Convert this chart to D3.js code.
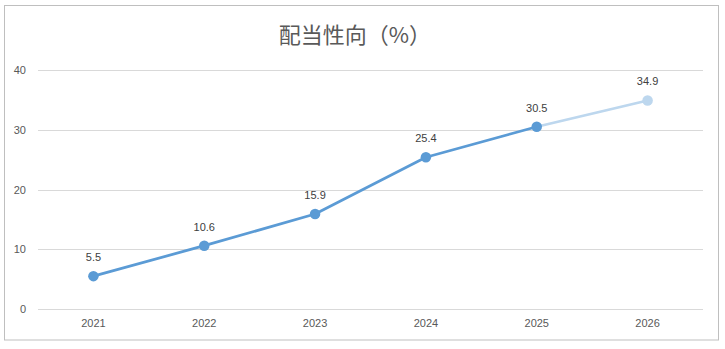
<!DOCTYPE html>
<html>
<head>
<meta charset="utf-8">
<script src="https://cdn.jsdelivr.net/npm/d3@7"></script>
<style>
  html, body { margin: 0; padding: 0; background: #fff; }
  svg { display: block; }
</style>
</head>
<body>
<svg id="chart" width="725" height="349"></svg>
<script>
// Payout ratio by fiscal year (last year is a forecast)
const years = ["2021", "2022", "2023", "2024", "2025", "2026"];
const payout = [5.5, 10.6, 15.9, 25.4, 30.5, 34.9];
const yTicks = [0, 10, 20, 30, 40];
const title = "配当性向（%）";
const forecastFrom = 4; // index where the forecast segment starts

const svg = d3.select("#chart");
const font = "'Noto Sans CJK JP', 'Liberation Sans', Arial, sans-serif";
const numFont = "'Liberation Sans', Arial, sans-serif";

// Outer frame
svg.append("rect")
  .attr("x", 4.5).attr("y", 5.5)
  .attr("width", 714).attr("height", 334.5)
  .attr("fill", "#fff").attr("stroke", "#bfbfbf").attr("stroke-width", 1);

const plot = { left: 38, right: 703, top: 70, bottom: 309 };

const x = d3.scaleBand().domain(years).range([plot.left, plot.right]);
const y = d3.scaleLinear().domain([0, 40]).range([plot.bottom, plot.top]);
const cx = d => x(d) + x.bandwidth() / 2;

// Title
svg.append("text")
  .attr("x", 355).attr("y", 43)
  .attr("text-anchor", "middle")
  .attr("font-family", font)
  .attr("font-size", 22)
  .attr("fill", "#595959")
  .text(title);

// Horizontal gridlines
svg.append("g")
  .selectAll("line")
  .data(yTicks)
  .join("line")
  .attr("x1", plot.left).attr("x2", plot.right)
  .attr("y1", d => Math.round(y(d)) + 0.5).attr("y2", d => Math.round(y(d)) + 0.5)
  .attr("stroke", "#d9d9d9").attr("stroke-width", 1);

// Y axis labels
const yAxis = svg.append("g")
  .attr("transform", `translate(${plot.left - 12},0)`)
  .call(d3.axisLeft(y).tickValues(yTicks).tickSize(0).tickPadding(0));
yAxis.select(".domain").remove();
yAxis.selectAll("text")
  .attr("font-family", numFont)
  .attr("font-size", 11)
  .attr("fill", "#595959");

// X axis labels
const xAxis = svg.append("g")
  .attr("transform", `translate(0,${plot.bottom + 10})`)
  .call(d3.axisBottom(x).tickSize(0).tickPadding(0));
xAxis.select(".domain").remove();
xAxis.selectAll("text")
  .attr("font-family", numFont)
  .attr("font-size", 11)
  .attr("fill", "#595959");

const pts = years.map((yr, i) => ({ yr, v: payout[i], i }));
const line = d3.line().x(d => cx(d.yr)).y(d => y(d.v));

// Actual segment
svg.append("path")
  .datum(pts.slice(0, forecastFrom + 1))
  .attr("d", line)
  .attr("fill", "none")
  .attr("stroke", "#5b9bd5")
  .attr("stroke-width", 2.75)
  .attr("stroke-linejoin", "round");

// Forecast segment
svg.append("path")
  .datum(pts.slice(forecastFrom))
  .attr("d", line)
  .attr("fill", "none")
  .attr("stroke", "#bdd7ee")
  .attr("stroke-width", 2.75);

// Markers
svg.append("g")
  .selectAll("circle")
  .data(pts)
  .join("circle")
  .attr("cx", d => cx(d.yr))
  .attr("cy", d => y(d.v))
  .attr("r", 5.25)
  .attr("fill", d => d.i > forecastFrom ? "#bdd7ee" : "#5b9bd5");

// Value labels
svg.append("g")
  .selectAll("text")
  .data(pts)
  .join("text")
  .attr("x", d => cx(d.yr))
  .attr("y", d => y(d.v) - 15)
  .attr("text-anchor", "middle")
  .attr("font-family", numFont)
  .attr("font-size", 11)
  .attr("fill", "#404040")
  .text(d => d.v.toFixed(1));
</script>
</body>
</html>
